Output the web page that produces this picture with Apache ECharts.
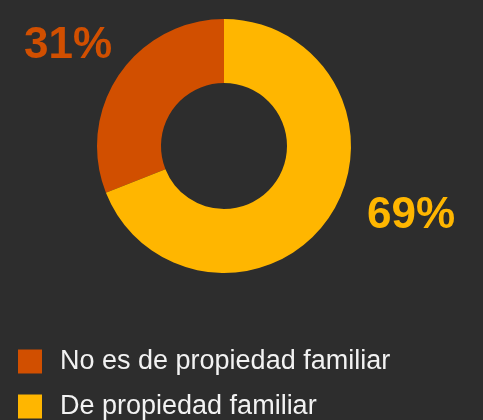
<!DOCTYPE html>
<html>
<head>
<meta charset="utf-8">
<script src="https://cdn.jsdelivr.net/npm/echarts@6/dist/echarts.min.js"></script>
<style>
  html, body { margin: 0; padding: 0; background: #2d2d2d; }
  #chart { width: 483px; height: 420px; }
</style>
</head>
<body>
<div id="chart"></div>
<script>
  var categories = ['No es de propiedad familiar', 'De propiedad familiar']
  var values = [31, 69]
  var colors = ['#d14f00', '#ffb600']
  // posiciones de las etiquetas de porcentaje
  var labelPos = [[68, 46], [411, 216]]
  var legendTops = [348, 393]

  var chart = echarts.init(document.getElementById('chart'))
  var option = {
    backgroundColor: '#2d2d2d',
    animation: false,
    // una leyenda por fila, para que no se reparta en columnas
    legend: categories.map(function (name, i) {
      return {
        orient: 'vertical',
        left: 18,
        top: legendTops[i],
        padding: 0,
        itemWidth: 24,
        itemHeight: 24,
        icon: 'rect',
        data: [name],
        textStyle: {
          color: '#f2f2f2',
          fontSize: 27,
          lineHeight: 24,
          fontFamily: 'Liberation Sans',
          padding: [0, 0, 0, 13]
        }
      }
    }),
    series: [{
      type: 'pie',
      center: [224, 146],
      radius: [63, 127],
      startAngle: 90,
      clockwise: false,
      itemStyle: { borderWidth: 0 },
      labelLine: { show: false },
      label: {
        show: true,
        position: 'outside',
        alignTo: 'none',
        overflow: 'none',
        formatter: '{d}%',
        fontSize: 44,
        fontWeight: 'bold',
        fontFamily: 'Liberation Sans',
        color: 'inherit'
      },
      labelLayout: function (params) {
        var p = labelPos[params.dataIndex]
        return { x: p[0], y: p[1], align: 'center', verticalAlign: 'middle', width: 120 }
      },
      data: categories.map(function (name, i) {
        return { name: name, value: values[i], itemStyle: { color: colors[i] }, label: { color: colors[i] } }
      })
    }]
  }
  chart.setOption(option)
</script>
</body>
</html>
